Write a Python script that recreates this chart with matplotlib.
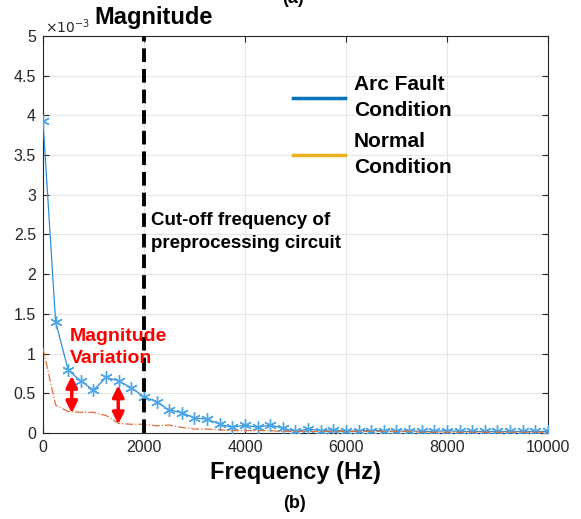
import numpy as np
import matplotlib
matplotlib.use("Agg")
import matplotlib.pyplot as plt
from matplotlib.lines import Line2D

plt.rcParams['font.family'] = ['Liberation Sans', 'DejaVu Sans']

# frequency bins (Hz), step 250
freq = np.arange(0, 10001, 250)

# magnitudes in units of 1e-3
arc_fault = [3.93, 1.40, 0.79, 0.655, 0.54, 0.70, 0.655, 0.57, 0.457, 0.39,
             0.29, 0.255, 0.19, 0.175, 0.11, 0.07, 0.10, 0.07, 0.10, 0.06,
             0.02, 0.05, 0.03, 0.04, 0.02, 0.03, 0.03, 0.03, 0.02, 0.03,
             0.02, 0.02, 0.03, 0.02, 0.02, 0.02, 0.02, 0.02, 0.02, 0.02, 0.02]
normal = [1.07, 0.35, 0.27, 0.26, 0.26, 0.22, 0.12, 0.11, 0.11, 0.09,
          0.10, 0.07, 0.05, 0.05, 0.04, 0.03, 0.03, 0.03, 0.03, 0.02,
          0.02, 0.02, 0.02, 0.02, 0.02, 0.02, 0.02, 0.02, 0.02, 0.02,
          0.01, 0.01, 0.01, 0.01, 0.01, 0.01, 0.01, 0.01, 0.01, 0.01, 0.01]

# variation arrows: (x, bottom, top)
arrows = [(570, 0.25, 0.72), (1490, 0.11, 0.60)]
cutoff_freq = 2000

fig = plt.figure(figsize=(5.81, 5.19), dpi=100)
ax = fig.add_axes([0.074, 0.1657, 0.869, 0.765])

ax.plot(freq, arc_fault, color='#2F8FD8', lw=0.9, marker=(6, 2, 0), ms=9,
        mec='#4DA6E8', mfc='#4DA6E8', mew=1.0, zorder=3)
ax.plot(freq, normal, color='#E0703A', lw=0.9, ls='-.', zorder=3)

ax.axvline(cutoff_freq, color='black', lw=2.8, ls=(0, (3.5, 1.8)), zorder=4)

for x, lo, hi in arrows:
    ax.annotate('', xy=(x, hi), xytext=(x, lo),
                arrowprops=dict(arrowstyle='<|-|>', color='#FF0000', lw=2.5,
                                mutation_scale=17, shrinkA=0, shrinkB=0),
                zorder=5)

ax.text(535, 1.22, 'Magnitude', color='#FF0000', fontsize=14, fontweight='bold',
        va='center', ha='left', zorder=6)
ax.text(535, 0.94, 'Variation', color='#FF0000', fontsize=14, fontweight='bold',
        va='center', ha='left', zorder=6)
ax.text(2130, 2.68, 'Cut-off frequency of', fontsize=13.5, fontweight='bold',
        va='center', ha='left')
ax.text(2130, 2.39, 'preprocessing circuit', fontsize=13.5, fontweight='bold',
        va='center', ha='left')

ax.set_xlim(0, 10000)
ax.set_ylim(0, 5)
ax.set_xticks(np.arange(0, 10001, 2000))
ax.set_yticks(np.arange(0, 5.01, 0.5))
ax.set_yticklabels(['0', '0.5', '1', '1.5', '2', '2.5', '3', '3.5', '4', '4.5', '5'])
ax.grid(True, color='#E6E6E6', lw=0.8)
ax.set_axisbelow(True)
ax.tick_params(direction='in', top=True, right=True, labelsize=11.5,
               colors='#262626', length=4, pad=5)
for s in ax.spines.values():
    s.set_color('#262626')
    s.set_linewidth(0.8)

ax.set_xlabel('Frequency (Hz)', fontsize=17, fontweight='bold', labelpad=4)

fig.text(0.077, 0.948, r'$\times10^{-3}$', fontsize=10, color='#262626',
         va='center', ha='left')
fig.text(0.163, 0.967, 'Magnitude', fontsize=17, fontweight='bold',
         va='center', ha='left')
fig.text(0.507, 0.03, '(b)', fontsize=13, fontweight='bold', va='center', ha='center')
fig.text(0.505, 1.003, '(a)', fontsize=13, fontweight='bold', va='center', ha='center')

handles = [Line2D([], [], color='#0072BD', lw=2.5),
           Line2D([], [], color='#EDB120', lw=2.5)]
leg = ax.legend(handles, ['Arc Fault\nCondition', 'Normal\nCondition'],
                loc='upper left', bbox_to_anchor=(0.458, 0.948), frameon=False,
                prop=dict(size=15, weight='bold'), handlelength=2.5,
                handletextpad=0.43, labelspacing=0.58)
for t in leg.get_texts():
    t.set_linespacing(1.45)

fig.savefig('out.png', dpi=100)
